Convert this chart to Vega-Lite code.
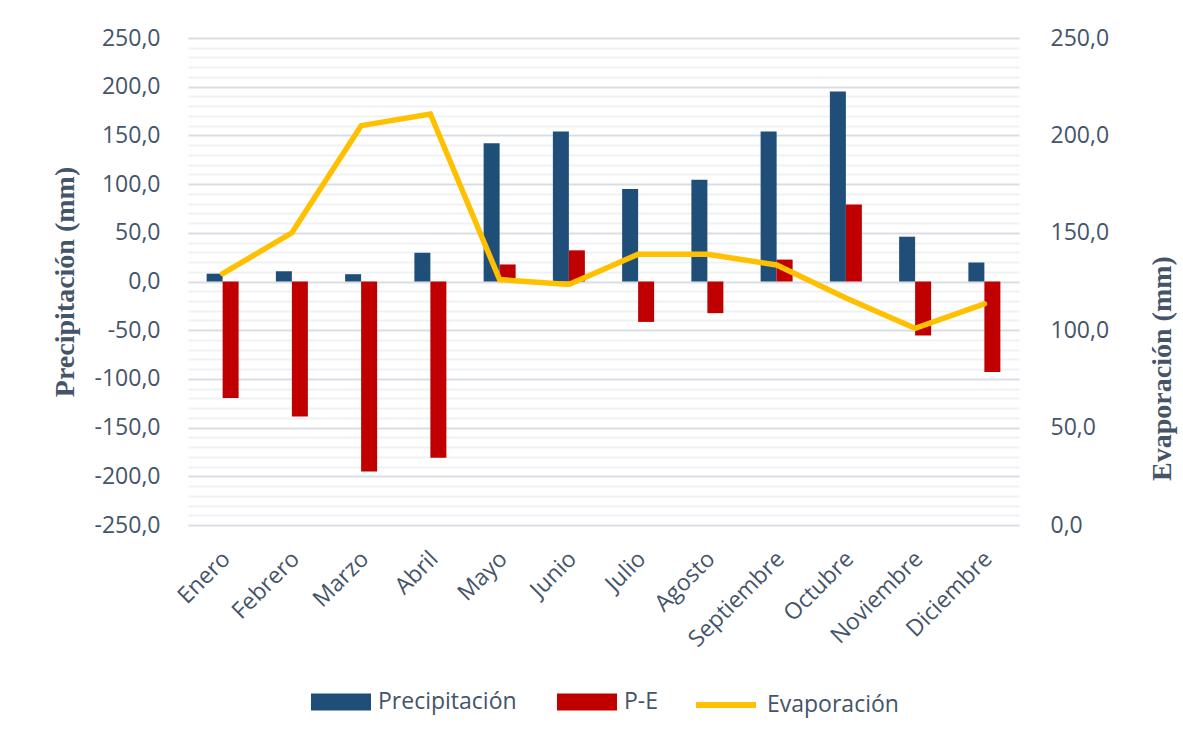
{
  "$schema": "https://vega.github.io/schema/vega-lite/v6.json",
  "width": 831,
  "height": 487,
  "autosize": {"type": "none"},
  "padding": {"left": 188, "top": 38, "right": 164, "bottom": 220},
  "background": "white",
  "data": {
    "values": [
      {"mes": "Enero", "serie": "Precipitación", "valor": 8},
      {"mes": "Febrero", "serie": "Precipitación", "valor": 10.5},
      {"mes": "Marzo", "serie": "Precipitación", "valor": 7.5},
      {"mes": "Abril", "serie": "Precipitación", "valor": 29.5},
      {"mes": "Mayo", "serie": "Precipitación", "valor": 142},
      {"mes": "Junio", "serie": "Precipitación", "valor": 154},
      {"mes": "Julio", "serie": "Precipitación", "valor": 95},
      {"mes": "Agosto", "serie": "Precipitación", "valor": 104.5},
      {"mes": "Septiembre", "serie": "Precipitación", "valor": 154},
      {"mes": "Octubre", "serie": "Precipitación", "valor": 195},
      {"mes": "Noviembre", "serie": "Precipitación", "valor": 46},
      {"mes": "Diciembre", "serie": "Precipitación", "valor": 19.5},
      {"mes": "Enero", "serie": "P-E", "valor": -119.5},
      {"mes": "Febrero", "serie": "P-E", "valor": -138.5},
      {"mes": "Marzo", "serie": "P-E", "valor": -195},
      {"mes": "Abril", "serie": "P-E", "valor": -181},
      {"mes": "Mayo", "serie": "P-E", "valor": 17.5},
      {"mes": "Junio", "serie": "P-E", "valor": 32},
      {"mes": "Julio", "serie": "P-E", "valor": -41.5},
      {"mes": "Agosto", "serie": "P-E", "valor": -32.5},
      {"mes": "Septiembre", "serie": "P-E", "valor": 22.5},
      {"mes": "Octubre", "serie": "P-E", "valor": 79},
      {"mes": "Noviembre", "serie": "P-E", "valor": -55.5},
      {"mes": "Diciembre", "serie": "P-E", "valor": -93},
      {"mes": "Enero", "serie": "Evaporación", "valor": 129},
      {"mes": "Febrero", "serie": "Evaporación", "valor": 150},
      {"mes": "Marzo", "serie": "Evaporación", "valor": 205},
      {"mes": "Abril", "serie": "Evaporación", "valor": 211},
      {"mes": "Mayo", "serie": "Evaporación", "valor": 126},
      {"mes": "Junio", "serie": "Evaporación", "valor": 123.5},
      {"mes": "Julio", "serie": "Evaporación", "valor": 139},
      {"mes": "Agosto", "serie": "Evaporación", "valor": 139},
      {"mes": "Septiembre", "serie": "Evaporación", "valor": 133.5},
      {"mes": "Octubre", "serie": "Evaporación", "valor": 116.5},
      {"mes": "Noviembre", "serie": "Evaporación", "valor": 101},
      {"mes": "Diciembre", "serie": "Evaporación", "valor": 113.5}
    ]
  },
  "encoding": {
    "x": {
      "field": "mes",
      "type": "nominal",
      "sort": ["Enero","Febrero","Marzo","Abril","Mayo","Junio","Julio","Agosto","Septiembre","Octubre","Noviembre","Diciembre"],
      "scale": {"type": "band", "paddingInner": 0.538, "paddingOuter": 0.269},
      "axis": {
        "title": null,
        "domain": false,
        "ticks": false,
        "grid": false,
        "labelAngle": -45,
        "labelAlign": "right",
        "labelBaseline": "middle",
        "labelPadding": 30,
        "labelOffset": 4,
        "labelFont": "Open Sans",
        "labelFontSize": 23,
        "labelColor": "#44546A"
      }
    }
  },
  "layer": [
    {
      "transform": [{"filter": "datum.serie !== 'Evaporación'"}],
      "mark": {"type": "bar"},
      "encoding": {
        "xOffset": {"field": "serie", "type": "nominal", "sort": ["Precipitación", "P-E"], "scale": {"paddingInner": 0, "paddingOuter": 0}},
        "y": {
          "field": "valor",
          "type": "quantitative",
          "scale": {"domain": [-250, 250], "nice": false, "zero": false},
          "axis": {
            "orient": "left",
            "title": "Precipitación  (mm)",
            "titleFont": "Liberation Serif",
            "titleFontWeight": "bold",
            "titleFontSize": 28,
            "titleColor": "#44546A",
            "titleAngle": -90,
            "titleAlign": "center",
            "titleBaseline": "middle",
            "titleX": -123,
            "titleY": 243.5,
            "domain": false,
            "ticks": false,
            "values": [-250,-240,-230,-220,-210,-200,-190,-180,-170,-160,-150,-140,-130,-120,-110,-100,-90,-80,-70,-60,-50,-40,-30,-20,-10,0,10,20,30,40,50,60,70,80,90,100,110,120,130,140,150,160,170,180,190,200,210,220,230,240,250],
            "labelExpr": "datum.value % 50 === 0 ? ((datum.value < 0 ? '-' : '') + replace(format(abs(datum.value), '.1f'), '.', ',')) : ''",
            "labelFont": "Open Sans",
            "labelFontSize": 23,
            "labelColor": "#44546A",
            "labelPadding": 28,
            "grid": true,
            "gridColor": {"condition": {"test": "datum.value % 50 === 0", "value": "#D9DEE6"}, "value": "#EFF1F4"},
            "gridWidth": 2
          }
        },
        "color": {
          "field": "serie",
          "type": "nominal",
          "scale": {"domain": ["Precipitación", "P-E"], "range": ["#1F4E79", "#C00000"]},
          "legend": {
            "title": null,
            "orient": "none",
            "direction": "horizontal",
            "legendX": 123,
            "legendY": 634,
            "padding": 0,
            "symbolType": "M-1,-0.28H1V0.28H-1Z",
            "symbolSize": 3600,
            "symbolStrokeWidth": 0,
            "labelOffset": 7,
            "columnPadding": 40,
            "labelFont": "Open Sans",
            "labelFontSize": 23,
            "labelColor": "#44546A",
            "labelLimit": 300
          }
        }
      }
    },
    {
      "transform": [{"filter": "datum.serie === 'Evaporación'"}],
      "mark": {"type": "line", "strokeWidth": 5.5, "strokeCap": "round", "strokeJoin": "miter"},
      "encoding": {
        "y": {
          "field": "valor",
          "type": "quantitative",
          "scale": {"domain": [0, 250], "nice": false, "zero": false},
          "axis": {
            "orient": "right",
            "title": "Evaporación  (mm)",
            "titleFont": "Liberation Serif",
            "titleFontWeight": "bold",
            "titleFontSize": 28,
            "titleColor": "#44546A",
            "titleAngle": -90,
            "titleAlign": "center",
            "titleBaseline": "middle",
            "titleX": 143,
            "titleY": 330,
            "domain": false,
            "ticks": false,
            "grid": false,
            "values": [0, 50, 100, 150, 200, 250],
            "labelExpr": "replace(format(datum.value, '.1f'), '.', ',')",
            "labelFont": "Open Sans",
            "labelFontSize": 23,
            "labelColor": "#44546A",
            "labelPadding": 31
          }
        },
        "stroke": {
          "field": "serie",
          "type": "nominal",
          "scale": {"domain": ["Evaporación"], "range": ["#FFC000"]},
          "legend": {
            "title": null,
            "orient": "none",
            "direction": "horizontal",
            "legendX": 505,
            "legendY": 634,
            "padding": 0,
            "symbolType": "stroke",
            "symbolSize": 3600,
            "symbolStrokeWidth": 6,
            "labelOffset": 8,
            "labelFont": "Open Sans",
            "labelFontSize": 23,
            "labelColor": "#44546A",
            "labelLimit": 300
          }
        }
      }
    }
  ],
  "resolve": {"scale": {"y": "independent", "color": "independent", "stroke": "independent"}},
  "config": {
    "view": {"stroke": null}
  }
}
